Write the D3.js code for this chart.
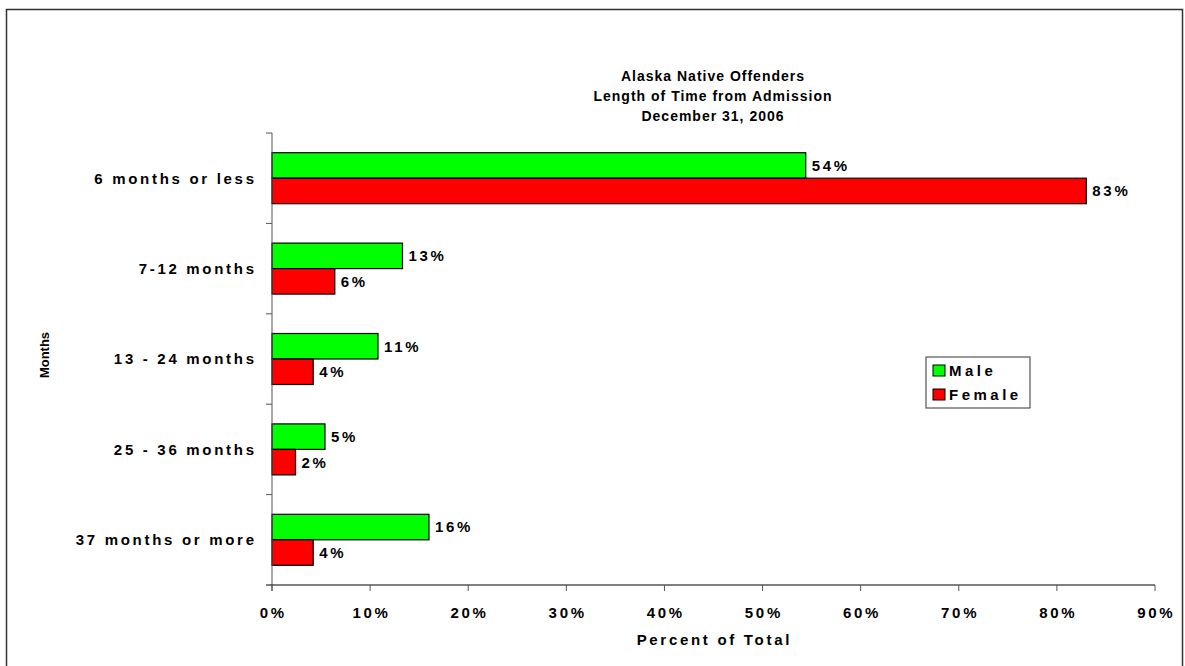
<!DOCTYPE html>
<html>
<head>
<meta charset="utf-8">
<script src="https://cdn.jsdelivr.net/npm/d3@7"></script>
<style>
  body { margin: 0; background: #fff; }
  text { font-family: "Liberation Sans", Arial, sans-serif; font-weight: bold; fill: #000; }
</style>
</head>
<body>
<div class="chart"></div>
<script>
// chart data
var categories = ["6 months or less", "7-12 months", "13 - 24 months", "25 - 36 months", "37 months or more"];
var seriesNames = ["Male", "Female"];
var maleValues = [54.4, 13.3, 10.8, 5.4, 16.0];
var femaleValues = [83.0, 6.4, 4.2, 2.4, 4.2];
var xTicks = [0, 10, 20, 30, 40, 50, 60, 70, 80, 90];
var titleLines = ["Alaska Native Offenders", "Length of Time from Admission", "December 31, 2006"];
var colors = ["#00ff00", "#ff0000"];

var svgWidth = 1185;
var svgHeight = 666;

var margin = { top: 133, right: 30, bottom: 81, left: 272 };
var width = 1155 - margin.left;
var height = svgHeight - margin.top - margin.bottom;

// letter spacing used by the labels
var ls = 2.7;

var svg = d3.select(".chart")
  .append("svg")
  .attr("width", svgWidth)
  .attr("height", svgHeight);

// outer frame
svg.append("rect")
  .attr("x", 6.5).attr("y", 9.5)
  .attr("width", 1176).attr("height", 670)
  .attr("fill", "none")
  .attr("stroke", "#333")
  .attr("stroke-width", 1.5);

// title
svg.append("text")
  .attr("text-anchor", "middle")
  .attr("font-size", "14px")
  .attr("letter-spacing", "1px")
  .selectAll("tspan")
  .data(titleLines)
  .enter()
  .append("tspan")
  .attr("x", 713)
  .attr("y", (d, i) => 81 + i * 20)
  .text(d => d);

var chartGroup = svg.append("g")
  .attr("transform", `translate(${margin.left}, ${margin.top})`);

var xScale = d3.scaleLinear().domain([0, 90]).range([0, width]);
var yBand = d3.scaleBand().domain(categories).range([0, height]);
var ySub = d3.scaleBand().domain(seriesNames)
  .range([yBand.bandwidth() * 0.218, yBand.bandwidth() * 0.782]);

// bars
var rows = categories.map((c, i) => ({ cat: c, vals: [maleValues[i], femaleValues[i]] }));

var groups = chartGroup.selectAll(".cat")
  .data(rows)
  .enter()
  .append("g")
  .attr("transform", d => `translate(0, ${yBand(d.cat)})`);

groups.selectAll("rect")
  .data(d => d.vals.map((v, j) => ({ name: seriesNames[j], v: v, j: j })))
  .enter()
  .append("rect")
  .attr("x", 0)
  .attr("y", d => ySub(d.name))
  .attr("width", d => xScale(d.v))
  .attr("height", ySub.bandwidth())
  .attr("fill", d => colors[d.j])
  .attr("stroke", "#000")
  .attr("stroke-width", 1.2);

groups.selectAll(".val")
  .data(d => d.vals.map((v, j) => ({ name: seriesNames[j], v: v })))
  .enter()
  .append("text")
  .attr("x", d => xScale(d.v) + 6)
  .attr("y", d => ySub(d.name) + ySub.bandwidth() / 2)
  .attr("dy", "0.36em")
  .attr("font-size", "15px")
  .attr("letter-spacing", ls + "px")
  .text(d => Math.round(d.v) + "%");

// y axis (ticks between categories)
chartGroup.append("line")
  .attr("x1", 0).attr("x2", 0)
  .attr("y1", 0).attr("y2", height + 6)
  .attr("stroke", "#555");

chartGroup.selectAll(".ytick")
  .data(d3.range(categories.length))
  .enter()
  .append("line")
  .attr("x1", -6).attr("x2", 0)
  .attr("y1", i => yBand.step() * i)
  .attr("y2", i => yBand.step() * i)
  .attr("stroke", "#555");

chartGroup.selectAll(".ylabel")
  .data(categories)
  .enter()
  .append("text")
  .attr("x", -18 + ls)
  .attr("y", d => yBand(d) + yBand.bandwidth() / 2)
  .attr("dy", "0.36em")
  .attr("text-anchor", "end")
  .attr("font-size", "15px")
  .attr("letter-spacing", ls + "px")
  .text(d => d);

// x axis
chartGroup.append("line")
  .attr("x1", -6).attr("x2", width)
  .attr("y1", height).attr("y2", height)
  .attr("stroke", "#000");

chartGroup.selectAll(".xtick")
  .data(xTicks)
  .enter()
  .append("line")
  .attr("x1", d => xScale(d)).attr("x2", d => xScale(d))
  .attr("y1", height).attr("y2", height + 6)
  .attr("stroke", "#555");

chartGroup.selectAll(".xlabel")
  .data(xTicks)
  .enter()
  .append("text")
  .attr("x", d => xScale(d) + ls / 2)
  .attr("y", height + 33)
  .attr("text-anchor", "middle")
  .attr("font-size", "15px")
  .attr("letter-spacing", ls + "px")
  .text(d => d + "%");

// axis titles
svg.append("text")
  .attr("x", 713 + ls / 2).attr("y", 645)
  .attr("text-anchor", "middle")
  .attr("font-size", "15px")
  .attr("letter-spacing", ls + "px")
  .text("Percent of Total");

svg.append("text")
  .attr("transform", "translate(49, 355) rotate(-90)")
  .attr("text-anchor", "middle")
  .attr("font-size", "13px")
  .text("Months");

// legend
var legend = svg.append("g").attr("transform", "translate(926, 357)");
legend.append("rect")
  .attr("width", 104).attr("height", 51)
  .attr("fill", "#fff")
  .attr("stroke", "#333");

var items = legend.selectAll(".item")
  .data(seriesNames)
  .enter()
  .append("g")
  .attr("transform", (d, i) => `translate(7, ${8 + i * 24})`);

items.append("rect")
  .attr("width", 12).attr("height", 11)
  .attr("fill", (d, i) => colors[i])
  .attr("stroke", "#000");

items.append("text")
  .attr("x", 16).attr("y", 6)
  .attr("dy", "0.36em")
  .attr("font-size", "15px")
  .attr("letter-spacing", "3.5px")
  .text(d => d);
</script>
</body>
</html>
